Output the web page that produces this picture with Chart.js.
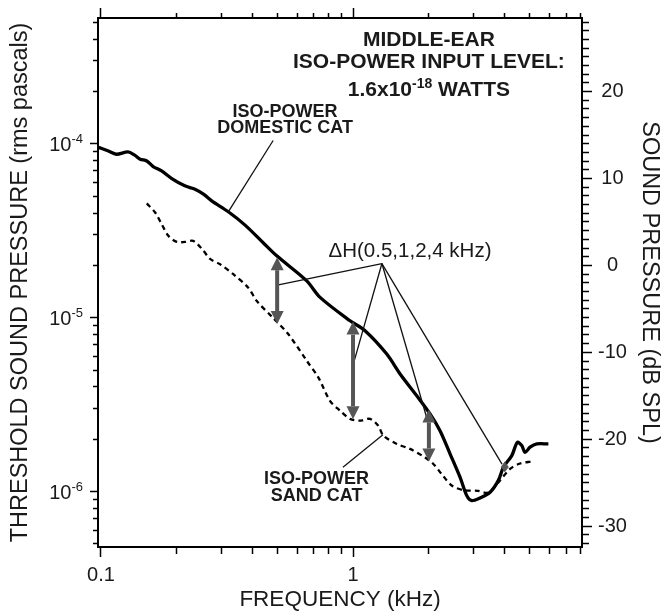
<!DOCTYPE html>
<html>
<head>
<meta charset="utf-8">
<title>Iso-power thresholds</title>
<script src="https://cdn.jsdelivr.net/npm/chart.js@4.4.1/dist/chart.umd.min.js"></script>
<style>
  html, body { margin: 0; padding: 0; background: #fff; }
  #wrap { width: 661px; height: 615px; }
</style>
</head>
<body>
<div id="wrap"><canvas id="isoChart" width="661" height="615"></canvas></div>
<script>
// Iso-power curve, domestic cat (frequency in kHz, threshold in rms pascals)
const domesticFreq = [0.098, 0.107, 0.115, 0.128, 0.136, 0.143, 0.152, 0.161, 0.174, 0.191, 0.215, 0.236, 0.255, 0.275, 0.32, 0.373, 0.441, 0.498, 0.655, 0.74, 0.973, 1.116, 1.361, 1.537, 1.79, 2.021, 2.214, 2.426, 2.658, 2.826, 2.958, 3.191, 3.497, 3.773, 3.949, 4.265, 4.487, 4.671, 4.814, 5.04, 5.358, 5.957];
const domesticPa = [9.55e-5, 9.11e-5, 8.72e-5, 8.99e-5, 8.61e-5, 8.17e-5, 7.98e-5, 7.41e-5, 6.99e-5, 6.32e-5, 5.74e-5, 5.49e-5, 5.14e-5, 4.70e-5, 4.07e-5, 3.41e-5, 2.69e-5, 2.27e-5, 1.63e-5, 1.31e-5, 9.61e-6, 8.42e-6, 6.18e-6, 4.75e-6, 3.56e-6, 2.80e-6, 2.24e-6, 1.65e-6, 1.21e-6, 9.48e-7, 8.87e-7, 9.20e-7, 9.91e-7, 1.16e-6, 1.38e-6, 1.61e-6, 1.92e-6, 1.84e-6, 1.68e-6, 1.80e-6, 1.88e-6, 1.88e-6];

// Iso-power curve, sand cat
const sandFreq = [0.152, 0.164, 0.174, 0.185, 0.200, 0.215, 0.232, 0.251, 0.271, 0.297, 0.335, 0.384, 0.415, 0.483, 0.552, 0.655, 0.728, 0.810, 0.888, 0.973, 1.066, 1.168, 1.260, 1.319, 1.491, 1.683, 1.931, 2.083, 2.249, 2.471, 2.740, 3.133, 3.443, 3.773, 4.198, 4.600, 5.118];
const sandPa = [4.55e-5, 4.03e-5, 3.46e-5, 2.96e-5, 2.73e-5, 2.73e-5, 2.77e-5, 2.50e-5, 2.18e-5, 2.03e-5, 1.78e-5, 1.49e-5, 1.25e-5, 9.93e-6, 8.09e-6, 5.66e-6, 4.54e-6, 3.33e-6, 2.92e-6, 2.62e-6, 2.56e-6, 2.62e-6, 2.39e-6, 2.10e-6, 1.88e-6, 1.76e-6, 1.57e-6, 1.44e-6, 1.26e-6, 1.08e-6, 1.02e-6, 1.01e-6, 9.87e-7, 1.13e-6, 1.35e-6, 1.45e-6, 1.49e-6];

// Delta-H arrows (0.5, 1, 2, 4 kHz)
const deltaFreq = [0.5, 1, 2, 4];
const deltaTop = [2.23e-5, 9.5e-6, 2.97e-6, 1.49e-6];
const deltaBottom = [9.2e-6, 2.61e-6, 1.49e-6, 1.29e-6];

// axes
const freqTicks = [0.1, 0.2, 0.3, 0.4, 0.5, 0.6, 0.7, 0.8, 0.9, 1, 2, 3, 4, 5, 6, 7, 8];
const freqLabelValues = [0.1, 1];
const freqLabels = ['0.1', '1'];
const pressureDecades = [1e-6, 1e-5, 1e-4];
const pressureExponents = ['-6', '-5', '-4'];
const splLabels = [-30, -20, -10, 0, 10, 20];

const xMin = 0.0973, xMax = 8.1;
const yMin = 4.8e-7, yMax = 5.3e-4;
const pRef = 2e-5; // 0 dB SPL
const splMin = 20 * Math.log10(yMin / pRef);
const splMax = 20 * Math.log10(yMax / pRef);

// minor log ticks for the pressure axis
const pressureTicks = [];
for (let e = -7; e <= -4; e++) {
  for (let m = 1; m <= 9; m++) {
    const v = Number((m * Math.pow(10, e)).toPrecision(3));
    if (v >= yMin && v <= yMax) pressureTicks.push(v);
  }
}
const splTicks = [];
for (let d = Math.ceil(splMin); d <= Math.floor(splMax); d++) splTicks.push(d);

const FONT = '"Liberation Sans", Arial, Helvetica, sans-serif';
Chart.defaults.font.family = FONT;
Chart.defaults.color = '#1a1a1a';

function isDecade(v) {
  return pressureDecades.some(d => Math.abs(v / d - 1) < 1e-6);
}

// leader lines and labels, placed in data units
const domesticLeader = [[0.482, 1.046e-4], [0.319, 4.04e-5]];
const sandLeader = [[0.912, 1.38e-6], [1.314, 2.12e-6]];
const deltaApex = [1.302, 2.05e-5];
const deltaEnds = [[0.5, 1.54e-5], [1.0, 5.34e-6], [1.97, 2.6e-6], [3.9, 1.44e-6]];

const annotations = {
  id: 'annotations',
  afterDatasetsDraw(chart) {
    const { ctx, scales } = chart;
    const px = f => scales.x.getPixelForValue(f);
    const py = p => scales.y.getPixelForValue(p);
    ctx.save();
    ctx.strokeStyle = '#111';
    ctx.lineWidth = 1.3;
    const line = (a, b) => {
      ctx.beginPath();
      ctx.moveTo(px(a[0]), py(a[1]));
      ctx.lineTo(px(b[0]), py(b[1]));
      ctx.stroke();
    };
    line(domesticLeader[0], domesticLeader[1]);
    line(sandLeader[0], sandLeader[1]);
    deltaEnds.forEach(e => line(deltaApex, e));

    // double headed arrows
    ctx.fillStyle = '#555';
    ctx.strokeStyle = '#555';
    deltaFreq.forEach((f, i) => {
      const x = px(f);
      const y1 = py(deltaTop[i]);
      const y2 = py(deltaBottom[i]);
      const len = y2 - y1;
      const head = Math.min(13, len / 2);
      const hw = Math.max(4, 6.5 * head / 13);
      ctx.lineWidth = 4;
      ctx.beginPath();
      ctx.moveTo(x, y1 + head);
      ctx.lineTo(x, y2 - head);
      ctx.stroke();
      ctx.beginPath();
      ctx.moveTo(x, y1);
      ctx.lineTo(x - hw, y1 + head);
      ctx.lineTo(x + hw, y1 + head);
      ctx.closePath();
      ctx.fill();
      ctx.beginPath();
      ctx.moveTo(x, y2);
      ctx.lineTo(x - hw, y2 - head);
      ctx.lineTo(x + hw, y2 - head);
      ctx.closePath();
      ctx.fill();
    });
    ctx.restore();
  },
  afterDraw(chart) {
    const { ctx, scales } = chart;
    const px = f => scales.x.getPixelForValue(f);
    const py = p => scales.y.getPixelForValue(p);
    ctx.save();
    ctx.fillStyle = '#1a1a1a';

    // left tick labels: 10 with superscript exponent
    const yAxis = scales.y;
    ctx.textBaseline = 'alphabetic';
    ctx.textAlign = 'right';
    pressureDecades.forEach((v, i) => {
      const y = yAxis.getPixelForValue(v);
      const right = yAxis.right - 15;
      ctx.font = '13px ' + FONT;
      const ew = ctx.measureText(pressureExponents[i]).width;
      ctx.fillText(pressureExponents[i], right, y - 1);
      ctx.font = '20px ' + FONT;
      ctx.fillText('10', right - ew, y + 7);
    });

    ctx.textAlign = 'center';
    ctx.textBaseline = 'middle';
    const text = (s, f, p, font) => {
      ctx.font = font;
      ctx.fillText(s, px(f), py(p));
    };
    const bold21 = 'bold 21px ' + FONT;
    const bold18 = 'bold 18px ' + FONT;
    text('MIDDLE-EAR', 2.0, 3.93e-4, bold21);
    text('ISO-POWER INPUT LEVEL:', 2.0, 2.97e-4, bold21);
    text('ISO-POWER', 0.5375, 1.535e-4, bold18);
    text('DOMESTIC CAT', 0.5375, 1.226e-4, bold18);
    text('ISO-POWER', 0.7167, 1.18e-6, bold18);
    text('SAND CAT', 0.7167, 9.45e-7, bold18);
    text('\u0394H(0.5,1,2,4 kHz)', 1.683, 2.41e-5, '20.5px ' + FONT);

    // 1.6x10^-18 WATTS
    ctx.textBaseline = 'alphabetic';
    ctx.textAlign = 'left';
    const supFont = 'bold 14px ' + FONT;
    ctx.font = bold21;
    const w1 = ctx.measureText('1.6x10').width;
    const w3 = ctx.measureText(' WATTS').width;
    ctx.font = supFont;
    const w2 = ctx.measureText('-18').width;
    const cx = px(2.0);
    const base = py(2.08e-4) + 7;
    const x0 = cx - (w1 + w2 + w3) / 2;
    ctx.font = bold21;
    ctx.fillText('1.6x10', x0, base);
    ctx.font = supFont;
    ctx.fillText('-18', x0 + w1, base - 8);
    ctx.font = bold21;
    ctx.fillText(' WATTS', x0 + w1 + w2, base);
    ctx.restore();
  }
};

function freqLabel(v) {
  const i = freqLabelValues.indexOf(v);
  return i >= 0 ? freqLabels[i] : '';
}
function isMajorFreq(c) {
  return c.tick && freqLabelValues.indexOf(c.tick.value) >= 0;
}

const tickGrid = (len, minorDash, major) => ({
  display: true,
  drawOnChartArea: false,
  drawTicks: true,
  tickLength: len,
  tickWidth: 1.5,
  tickColor: '#000',
  tickBorderDash: c => (major(c) ? [] : minorDash)
});
const frame = { display: true, width: 2, color: '#000' };

new Chart(document.getElementById('isoChart'), {
  type: 'line',
  data: {
    datasets: [{
      label: 'Iso-power domestic cat',
      data: domesticFreq.map((f, i) => ({ x: f, y: domesticPa[i] })),
      borderColor: '#000',
      borderWidth: 3.3,
      pointRadius: 0,
      tension: 0.3,
      fill: false
    }, {
      label: 'Iso-power sand cat',
      data: sandFreq.map((f, i) => ({ x: f, y: sandPa[i] })),
      borderColor: '#000',
      borderWidth: 2.3,
      borderDash: [5, 4],
      pointRadius: 0,
      tension: 0.3,
      fill: false
    }]
  },
  options: {
    responsive: false,
    animation: false,
    layout: { padding: 0 },
    plugins: { legend: { display: false }, tooltip: { enabled: false } },
    scales: {
      x: {
        type: 'logarithmic',
        position: 'bottom',
        min: xMin,
        max: xMax,
        afterBuildTicks: s => { s.ticks = freqTicks.map(v => ({ value: v })); },
        afterFit: s => { s.height = 68; },
        ticks: {
          autoSkip: false,
          maxRotation: 0,
          padding: 6,
          font: { size: 20 },
          callback: v => freqLabel(v)
        },
        grid: tickGrid(10, [6, 100], isMajorFreq),
        border: frame,
        title: {
          display: true,
          text: 'FREQUENCY (kHz)',
          font: { size: 22.5, lineHeight: 1 },
          padding: { top: 0, bottom: 4 }
        }
      },
      x2: {
        type: 'logarithmic',
        position: 'top',
        min: xMin,
        max: xMax,
        afterBuildTicks: s => { s.ticks = freqTicks.map(v => ({ value: v })); },
        afterFit: s => { s.height = 17; },
        ticks: { display: false, autoSkip: false },
        grid: tickGrid(10, [0, 5, 5, 100], isMajorFreq),
        border: frame
      },
      y: {
        type: 'logarithmic',
        position: 'left',
        min: yMin,
        max: yMax,
        afterBuildTicks: s => { s.ticks = pressureTicks.map(v => ({ value: v })); },
        afterFit: s => { s.width = 98; },
        ticks: { display: false, autoSkip: false },
        grid: tickGrid(8, [0, 3, 5, 100], c => c.tick && isDecade(c.tick.value)),
        border: frame,
        title: {
          display: true,
          text: 'THRESHOLD SOUND PRESSURE (rms pascals)',
          font: { size: 23.5, lineHeight: 1 },
          padding: { top: 9, bottom: 0 }
        }
      },
      y2: {
        type: 'linear',
        position: 'right',
        min: splMin,
        max: splMax,
        afterBuildTicks: s => { s.ticks = splTicks.map(v => ({ value: v })); },
        afterFit: s => { s.width = 79; },
        ticks: {
          autoSkip: false,
          padding: 6,
          crossAlign: 'center',
          font: { size: 20 },
          callback: v => (splLabels.indexOf(v) >= 0 ? String(v) : '')
        },
        grid: tickGrid(10, [6, 100], c => c.tick && splLabels.indexOf(c.tick.value) >= 0),
        border: frame,
        title: {
          display: true,
          text: 'SOUND PRESSURE (dB SPL)',
          font: { size: 23.5, lineHeight: 1 },
          padding: { top: 0, bottom: 0 }
        }
      }
    }
  },
  plugins: [annotations]
});
</script>
</body>
</html>
